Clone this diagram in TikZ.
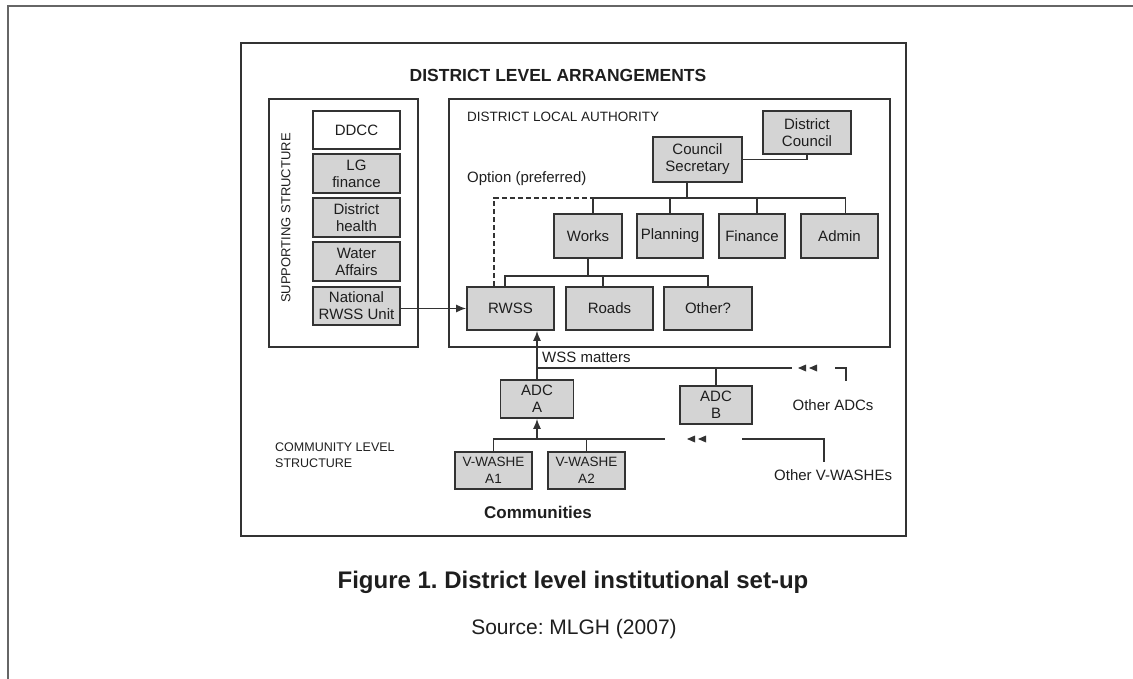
\documentclass[tikz,border=0pt]{standalone}
\usepackage{fontspec}
\setmainfont{Liberation Sans}
\usetikzlibrary{arrows.meta}

\definecolor{boxgray}{HTML}{D4D4D4}
\definecolor{linegray}{HTML}{333333}
\definecolor{inkgray}{HTML}{1E1E1E}

\tikzset{
  unit/.style={draw=linegray, line width=1.6pt, fill=boxgray, inner sep=0pt, align=center,
    text=inkgray, font=\fontsize{15}{17}\selectfont},
  frame/.style={draw=linegray, line width=1.6pt, inner sep=0pt},
  link/.style={draw=linegray, line width=1.5pt},
  up/.style={link, -{Latex[length=10pt,width=8pt]}},
  caps/.style={text=inkgray, font=\fontsize{13}{16}\selectfont, inner sep=0pt},
  plain/.style={text=inkgray, font=\fontsize{15}{17}\selectfont, inner sep=0pt},
  twoheads/.pic={
    \fill[linegray] (0,0) -- (8,-3.5) -- (8,3.5) -- cycle;
    \fill[linegray] (11,0) -- (19,-3.5) -- (19,3.5) -- cycle;
  }
}

\begin{document}
\frenchspacing
\begin{tikzpicture}[x=1pt, y=-1pt]
  \useasboundingbox (0,0) rectangle (1133,679);

  % page edge, top and left only
  \coordinate (pagebl) at (8,679);
  \coordinate (pagetl) at (8,6);
  \coordinate (pagetr) at (1133,6);
  \draw[draw=gray!80!black, line width=1.8pt] (pagebl) -- (pagetl) -- (pagetr);

  % outer frame and title
  \node[frame, minimum width=665pt, minimum height=493pt] (outer) at (573.5,289.5) {};
  \node[text=inkgray, font=\bfseries\fontsize{17.5}{20}\selectfont] (title) at (558,75) {DISTRICT LEVEL ARRANGEMENTS};

  % supporting structure column
  \node[frame, minimum width=149pt, minimum height=248pt] (support) at (343.5,223) {};
  \node[caps, rotate=90] (suplabel) at (286,218) {SUPPORTING STRUCTURE};
  \node[unit, fill=white, minimum width=87pt, minimum height=38pt] (ddcc) at (356.5,130) {DDCC};
  \node[unit, minimum width=87pt, minimum height=39pt] (lgfin) at (356.5,173.5) {LG\\finance};
  \node[unit, minimum width=87pt, minimum height=39pt] (health) at (356.5,217.5) {District\\health};
  \node[unit, minimum width=87pt, minimum height=39pt] (water) at (356.5,261.5) {Water\\Affairs};
  \node[unit, minimum width=87pt, minimum height=38pt] (natunit) at (356.5,306) {National\\RWSS Unit};

  % district local authority
  \node[frame, minimum width=441pt, minimum height=248pt] (dla) at (669.5,223) {};
  \node[caps, font=\fontsize{13.5}{16}\selectfont, anchor=west] (dlalabel) at (467,117) {DISTRICT LOCAL AUTHORITY};
  \node[plain, anchor=west] (option) at (467,179) {Option (preferred)};
  \node[unit, minimum width=89pt, minimum height=45pt] (secretary) at (697.5,159.5) {Council\\Secretary};
  \node[unit, minimum width=88pt, minimum height=43pt] (council) at (807,132.5) {District\\Council};

  % departments
  \node[unit, minimum width=68pt, minimum height=44pt] (works) at (588,236) {Works};
  \node[unit, minimum width=66pt, minimum height=44pt] (planning) at (670,236) {Planning};
  \node[unit, minimum width=66pt, minimum height=44pt] (finance) at (752,236) {Finance};
  \node[unit, minimum width=77pt, minimum height=44pt] (admin) at (839.5,236) {Admin};

  % sections under works
  \node[unit, minimum width=87pt, minimum height=43pt] (rwss) at (510.5,308.5) {RWSS};
  \node[unit, minimum width=87pt, minimum height=43pt] (roads) at (609.5,308.5) {Roads};
  \node[unit, minimum width=88pt, minimum height=43pt] (other) at (708,308.5) {Other?};

  % links inside the authority
  \coordinate (deptbus) at (687,198);
  \coordinate (sectbus) at (588,276);
  \draw[link] (secretary.east) -| (council.south);
  \draw[link] (secretary.south -| deptbus) -- (deptbus);
  \draw[link] ([xshift=5pt]works.north) |- (deptbus) -| ([xshift=6pt]admin.north);
  \draw[link] (planning.north) -- (planning.north |- deptbus);
  \draw[link] ([xshift=5pt]finance.north) -- ([xshift=5pt]finance.north |- deptbus);
  \draw[link, dash pattern=on 5pt off 3pt] ([xshift=-16.5pt]rwss.north) |- ([xshift=5pt]works.north |- deptbus);
  \draw[link] (works.south) -- (sectbus);
  \draw[link] ([xshift=-5.5pt]rwss.north) |- (sectbus) -| (other.north);
  \draw[link] ([xshift=-6.5pt]roads.north) -- ([xshift=-6.5pt]roads.north |- sectbus);

  % national unit feeds rwss
  \draw[up] (natunit.east |- rwss.west) -- (rwss.west);

  % area development committees
  \node[unit, minimum width=73pt, minimum height=38pt] (adca) at (537,399) {ADC\\A};
  \node[unit, minimum width=72pt, minimum height=38pt] (adcb) at (716,405) {ADC\\B};
  \coordinate (adcbus) at (537,368);
  \coordinate (adcend) at (792,368);
  \coordinate (adcbrk) at (835,368);
  \draw[up] (adca.north) -- (adca.north |- rwss.south);
  \draw[link] (adcbus) -- (adcend);
  \draw[link] (adcb.north) -- (adcb.north |- adcbus);
  \pic at (798,368) {twoheads};
  \draw[link] (adcbrk) -- ++(11,0) -- ++(0,13);
  \node[plain, anchor=west] (wss) at (542,357) {WSS matters};
  \node[plain] (otheradc) at (833,405) {Other ADCs};

  % village committees
  \node[unit, font=\fontsize{13.5}{17}\selectfont, minimum width=77pt, minimum height=37pt] (vwa) at (493.5,470.5) {V-WASHE\\A1};
  \node[unit, font=\fontsize{13.5}{17}\selectfont, minimum width=77pt, minimum height=37pt] (vwb) at (586.5,470.5) {V-WASHE\\A2};
  \coordinate (vbus) at (537,439);
  \coordinate (vend) at (665,439);
  \coordinate (vbrk) at (742,439);
  \draw[up] (vbus) -- (adca.south);
  \draw[link] (vwa.north) |- (vend);
  \draw[link] (vwb.north) -- (vwb.north |- vbus);
  \pic at (687,439) {twoheads};
  \draw[link] (vbrk) -- ++(82,0) -- ++(0,23);
  \node[plain, anchor=west] (otherv) at (774,475) {Other V-WASHEs};
  \node[caps, font=\fontsize{12.5}{16}\selectfont, anchor=west, align=left] (commlabel) at (275,455) {COMMUNITY LEVEL\\STRUCTURE};
  \node[text=inkgray, font=\bfseries\fontsize{17}{20}\selectfont] (communities) at (538,512) {Communities};

  % caption and source
  \node[text=inkgray, font=\bfseries\fontsize{24}{28}\selectfont] (caption) at (573,582) {Figure 1. District level institutional set-up};
  \node[text=inkgray, font=\fontsize{21}{24}\selectfont] (source) at (574,629) {Source: MLGH (2007)};
\end{tikzpicture}
\end{document}
